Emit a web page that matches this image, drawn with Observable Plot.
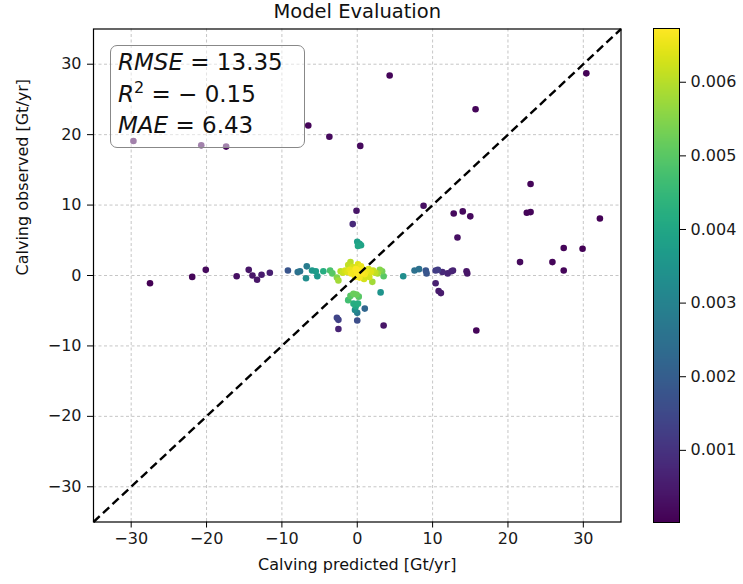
<!DOCTYPE html>
<html><head><meta charset="utf-8">
<script src="https://cdn.jsdelivr.net/npm/d3@7"></script>
<script src="https://cdn.jsdelivr.net/npm/@observablehq/plot@0.6"></script>
<style>
body{margin:0;background:#fff;}
#wrap{position:relative;width:743px;height:584px;font-family:"DejaVu Sans",sans-serif;overflow:hidden;}
#wrap svg{position:absolute;left:0;top:0;}
#box{position:absolute;left:110px;top:45px;width:195px;height:103px;box-sizing:border-box;border:1.5px solid #888;border-radius:7px;background:rgba(255,255,255,0.5);font-size:23px;line-height:31.5px;padding:1px 0 0 7px;color:#111;white-space:nowrap;word-spacing:0px;}
#box i{font-style:italic;}
#box sup{font-size:16px;line-height:0;vertical-align:9px;}
</style></head>
<body>
<div id="wrap"><div id="box"><div><i>RMSE</i> = 13.35</div><div><i>R</i><sup>2</sup> = − 0.15</div><div><i>MAE</i> = 6.43</div></div></div>
<script>
// ---- data ----
const title = "Model Evaluation";
const xLabel = "Calving predicted [Gt/yr]";
const yLabel = "Calving observed [Gt/yr]";
const axisLimits = [-35, 35];
const axisTicks = [-30, -20, -10, 0, 10, 20, 30];
const colorbarTicks = [0.001, 0.002, 0.003, 0.004, 0.005, 0.006];
const densityRange = [0.00002, 0.00673];

const predicted = [
  -28.3, 4.3, 30.4, 15.7, -6.5, -3.7, 0.4, -29.7, -20.7, -17.4,
  23.0, 8.8, -0.1, -0.6, 12.8, 14.0, 15.0, 13.3, 22.5, 23.0,
  32.2, 27.4, 29.9, 21.6, 25.9, 27.4, -27.5, -21.9, -20.1, -16.0,
  -14.4, -13.9, -13.3, -12.7, -11.6, 15.8, 3.5, -2.5, 10.4, 10.8,
  11.1, 14.5, 14.6, 11.3, 12.0, 12.5, 12.7,
  10.4, 10.7, 9.1, 9.2, 7.6, 8.2, 6.1, 3.5, 3.1, -9.2,
  -7.9, -7.6, -6.7, -6.8, -6.0, -5.5, -5.3, -4.5, -3.6, -3.3, -2.7,
  0.0, 0.3, 0.5, 0.1,
  -1.2, -0.9, -0.5, -0.1, 0.2, -0.5, -0.2, 0.1, -0.3, 0.0, 1.0, 0.0, -2.7, -2.5,
  -2.2, -1.9, -1.6, -1.3, -1.0, -0.8, -0.6, -0.9, -0.4, -0.2, 0.0, 0.2, 0.4, 0.6,
  0.8, 1.0, 1.2, 1.5, 1.8, 2.1, 2.4, 0.3, -0.3, 0.9, 1.6, -1.2, 0.1, 0.5,
  3.0, 3.3, 2.0, -2.5, 2.7
];
const observed = [
  35.7, 28.4, 28.7, 23.6, 21.3, 19.7, 18.4, 19.1, 18.5, 18.3,
  13.0, 9.9, 9.2, 7.3, 8.8, 9.1, 8.4, 5.4, 8.9, 9.0,
  8.1, 3.9, 3.8, 1.9, 1.9, 0.7, -1.1, -0.2, 0.8, -0.1,
  0.8, 0.0, -0.6, 0.1, 0.4, -7.8, -7.1, -7.6, -1.1, -2.2,
  -2.5, 0.6, 0.3, 0.5, 0.3, 0.6, 0.7,
  0.7, 0.8, 0.7, 0.3, 0.7, 0.9, -0.1, -0.1, -2.4, 0.7,
  0.5, 0.6, 1.3, -0.4, 0.7, 0.6, -0.1, 0.6, 0.7, 0.3, -0.3,
  4.8, 4.5, 4.3, 4.2,
  -3.5, -2.9, -2.6, -2.7, -3.0, -4.0, -4.4, -4.0, -4.9, -5.3, -4.7, -6.4, -6.0, -6.3,
  0.6, 0.4, 0.7, 0.5, 0.8, 0.3, 1.2, 1.9, 0.5, 0.9, 0.3, 0.7, 1.1, 0.4,
  0.8, 0.2, 0.6, 0.9, 0.5, 0.7, 0.4, -0.3, -0.2, -0.5, -0.2, 1.5, 1.6, 1.3,
  0.8, 0.6, -0.9, -0.7, 0.3
];
const density = [
  0.00015, 0.0001, 0.00005, 0.0001, 0.0001, 0.0002, 0.0002, 0.00005, 0.0001, 0.0001,
  0.0001, 0.0003, 0.0004, 0.0008, 0.0002, 0.0002, 0.0002, 0.0003, 0.0001, 0.0001,
  0.00005, 0.0001, 0.00005, 0.0002, 0.0001, 0.0001, 0.00003, 0.0001, 0.0002, 0.0003,
  0.0004, 0.0004, 0.0004, 0.0005, 0.0006, 0.0001, 0.0004, 0.0007, 0.0006, 0.0005,
  0.0005, 0.0004, 0.0004, 0.0008, 0.0007, 0.0007, 0.0006,
  0.0012, 0.0012, 0.0018, 0.0018, 0.0025, 0.0025, 0.0033, 0.0050, 0.0035, 0.0018,
  0.0025, 0.0026, 0.0028, 0.0033, 0.0036, 0.0037, 0.0036, 0.0042, 0.0048, 0.0050, 0.0055,
  0.0038, 0.0038, 0.0039, 0.0040,
  0.0047, 0.0050, 0.0052, 0.0052, 0.0050, 0.0042, 0.0040, 0.0042, 0.0032, 0.0028, 0.0022, 0.0016, 0.0014, 0.0013,
  0.0060, 0.0062, 0.0063, 0.0064, 0.0065, 0.0066, 0.0063, 0.0060, 0.0066, 0.0067, 0.0067, 0.0067, 0.0065, 0.0067,
  0.0066, 0.0066, 0.0065, 0.0063, 0.0064, 0.0062, 0.0061, 0.0066, 0.0066, 0.0063, 0.0063, 0.0061, 0.0064, 0.0065,
  0.0055, 0.0053, 0.0058, 0.0058, 0.0058
];

// ---- build ----
const points = predicted.map((x, i) => ({x, y: observed[i], d: density[i]}))
  .sort((a, b) => a.d - b.d);
const diagonal = [{a: axisLimits[0], b: axisLimits[1]}];
const minusFmt = d => d < 0 ? "\u2212" + Math.abs(d) : String(d);
const font = "DejaVu Sans";

const main = Plot.plot({
  width: 743, height: 584,
  marginLeft: 93, marginRight: 122.5, marginTop: 28.5, marginBottom: 62.5,
  style: {fontFamily: font, fontSize: "16px", color: "#1a1a1a", background: "transparent", overflow: "visible"},
  x: {domain: axisLimits, label: null},
  y: {domain: axisLimits, label: null},
  color: {type: "linear", scheme: "viridis", domain: densityRange, clamp: true},
  marks: [
    Plot.gridX(axisTicks, {stroke: "#b8b8b8", strokeOpacity: 1, strokeWidth: 0.8, strokeDasharray: "3,2.5"}),
    Plot.gridY(axisTicks, {stroke: "#b8b8b8", strokeOpacity: 1, strokeWidth: 0.8, strokeDasharray: "3,2.5"}),
    Plot.dot(points, {x: "x", y: "y", fill: "d", r: 3.3, clip: true}),
    Plot.link(diagonal, {x1: "a", y1: "a", x2: "b", y2: "b", stroke: "black", strokeWidth: 2.4, strokeDasharray: "8.5,4.5"}),
    Plot.frame({stroke: "black", strokeWidth: 1.2}),
    Plot.axisX(axisTicks, {tickSize: 6, tickPadding: 5, tickFormat: minusFmt, fontSize: 16, label: null, stroke: "black"}),
    Plot.axisY(axisTicks, {tickSize: 6, tickPadding: 6, tickFormat: minusFmt, fontSize: 16, label: null, stroke: "black"}),
    Plot.text([title], {text: d => d, frameAnchor: "top", dy: -24.5, fontSize: 19.5, fill: "#111"}),
    Plot.text([xLabel], {text: d => d, frameAnchor: "bottom", dy: 48, fontSize: 16, fill: "#111"}),
    Plot.text([yLabel], {text: d => d, frameAnchor: "left", dx: -71, rotate: -90, fontSize: 16, fill: "#111"})
  ]
});

const cbar = Plot.plot({
  width: 743, height: 584,
  marginLeft: 653, marginRight: 64, marginTop: 28, marginBottom: 62,
  style: {fontFamily: font, fontSize: "16px", color: "#1a1a1a", background: "transparent", overflow: "visible"},
  x: {domain: [0, 1], axis: null},
  y: {domain: densityRange, label: null, axis: null},
  color: {type: "linear", scheme: "viridis", domain: densityRange},
  marks: [
    Plot.raster({x1: 0, x2: 1, y1: densityRange[0], y2: densityRange[1], width: 1, height: 256, fill: (x, y) => y, imageRendering: "auto"}),
    Plot.frame({stroke: "black", strokeWidth: 1}),
    Plot.axisY(colorbarTicks, {anchor: "right", tickSize: 6, tickPadding: 5, tickFormat: d3.format(".3f"), fontSize: 16, label: null, stroke: "black"})
  ]
});

const wrap = document.getElementById("wrap");
const box = document.getElementById("box");
wrap.insertBefore(main, box);
wrap.insertBefore(cbar, box);
</script>
</body></html>
